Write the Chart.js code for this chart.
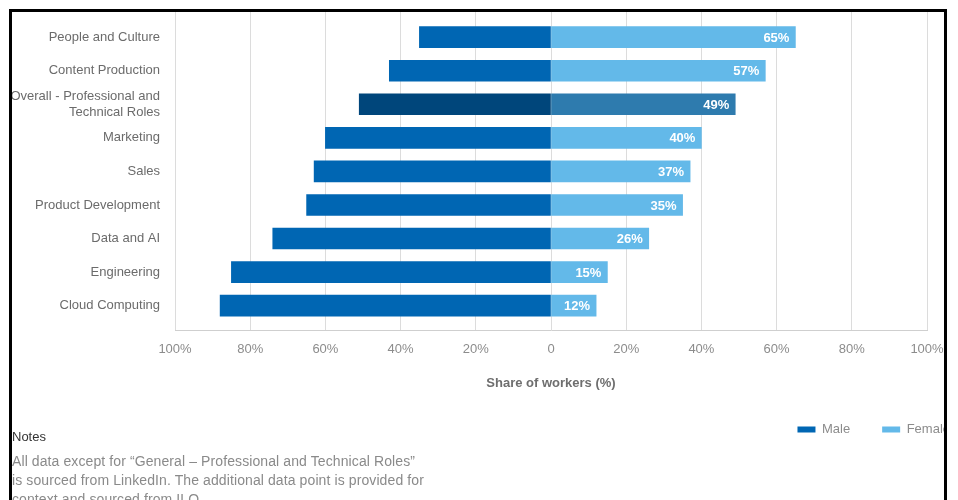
<!DOCTYPE html>
<html lang="en">

<head>
    <meta charset="UTF-8">
    <title>Share of workers by gender</title>
    <script src="https://cdn.jsdelivr.net/npm/chart.js"></script>
    <style>
        body { margin: 0; background: #fff; font-family: "Liberation Sans", Arial, Helvetica, sans-serif; }
        .frame {
            position: absolute; left: 9px; top: 9px; width: 938px; height: 600px;
            box-sizing: border-box; border: 3px solid #000; border-bottom: none; overflow: hidden;
        }
        #chartWrap { position: absolute; left: -12px; top: -12px; }
        .notes { position: absolute; left: 0; top: 415px; line-height: 19px; }
        .notes .head { color: #333; font-size: 13px; }
        .notes .body { color: #8a8a8a; font-size: 14px; letter-spacing: 0.1px; margin-top: 6px; white-space: nowrap; }
    </style>
</head>

<body>
    <div class="frame">
        <div id="chartWrap">
            <canvas id="myChart" width="982" height="446"></canvas>
        </div>
        <div class="notes">
            <div class="head">Notes</div>
            <div class="body">All data except for “General – Professional and Technical Roles”<br>is sourced from LinkedIn. The additional data point is provided for<br>context and sourced from ILO.</div>
        </div>
    </div>

    <script>
        const categories = [
            'People and Culture',
            'Content Production',
            ['Overall - Professional and', 'Technical Roles'],
            'Marketing',
            'Sales',
            'Product Development',
            'Data and AI',
            'Engineering',
            'Cloud Computing'
        ];
        const male = [35, 43, 51, 60, 63, 65, 74, 85, 88];
        const female = [65, 57, 49, 40, 37, 35, 26, 15, 12];
        const xTicks = [-100, -80, -60, -40, -20, 0, 20, 40, 60, 80, 100];

        const highlight = 2; // the "Overall" row is drawn darker

        Chart.defaults.font.family = '"Liberation Sans", Arial, Helvetica, sans-serif';
        Chart.defaults.font.size = 13;

        // white % labels at the end of the female bars
        const barLabels = {
            id: 'bar_labels',
            afterDatasetsDraw: (chart) => {
                const ctx = chart.ctx;
                const meta = chart.getDatasetMeta(1);
                ctx.save();
                ctx.font = 'bold 13px "Liberation Sans", Arial, sans-serif';
                ctx.fillStyle = '#fff';
                ctx.textAlign = 'right';
                ctx.textBaseline = 'middle';
                meta.data.forEach((bar, i) => {
                    ctx.fillText(female[i] + '%', bar.x - 6, bar.y + 1);
                });
                ctx.restore();
            }
        };

        const data = {
            datasets: [{
                label: 'Male',
                data: male.map((v, i) => ({ x: -v, y: i })),
                backgroundColor: (c) => c.dataIndex === highlight ? '#00467b' : '#0066b3',
            }, {
                label: 'Female',
                data: female.map((v, i) => ({ x: v, y: i })),
                backgroundColor: (c) => c.dataIndex === highlight ? '#2e7bae' : '#63b9e9',
            }]
        };

        const config = {
            type: 'bar',
            data: data,
            options: {
                indexAxis: 'y',
                responsive: false,
                animation: false,
                barThickness: 21,
                layout: { padding: { top: 12, right: 0, bottom: 0, left: 0 } },
                scales: {
                    x: {
                        type: 'linear',
                        stacked: true,
                        min: -100,
                        max: 100,
                        afterBuildTicks: (scale) => { scale.ticks = xTicks.map(v => ({ value: v })); },
                        afterFit: (scale) => { scale.paddingRight = 55; },
                        grid: { color: '#dcdcdc', drawTicks: false },
                        border: { color: '#cfcfcf' },
                        ticks: {
                            color: '#8c8c8c',
                            padding: 11,
                            maxRotation: 0,
                            callback: (v) => v === 0 ? '0' : Math.abs(v) + '%'
                        },
                        title: {
                            display: true,
                            text: 'Share of workers (%)',
                            color: '#6e6e6e',
                            font: { weight: 'bold', size: 13 },
                            padding: { top: 7, bottom: 0 }
                        }
                    },
                    y: {
                        type: 'linear',
                        stacked: true,
                        reverse: true,
                        offset: false,
                        min: -0.75,
                        max: 8.75,
                        afterFit: (scale) => {
                            scale.width = 175;
                            scale.paddingTop = 0;
                            scale.paddingBottom = 0;
                        },
                        grid: { display: false, drawTicks: false, offset: false },
                        border: { display: false },
                        ticks: {
                            stepSize: 1,
                            autoSkip: false,
                            color: '#6b6b6b',
                            padding: 15,
                            callback: (v) => Number.isInteger(v) && categories[v] !== undefined ? categories[v] : ''
                        }
                    }
                },
                plugins: {
                    legend: {
                        position: 'bottom',
                        align: 'end',
                        labels: {
                            boxWidth: 18,
                            boxHeight: 6,
                            padding: 32,
                            color: '#8c8c8c',
                            font: { size: 13 }
                        }
                    },
                    tooltip: { enabled: false }
                }
            },
            plugins: [barLabels]
        };

        var chart = new Chart(
            document.getElementById('myChart'),
            config
        );
    </script>
</body>

</html>
